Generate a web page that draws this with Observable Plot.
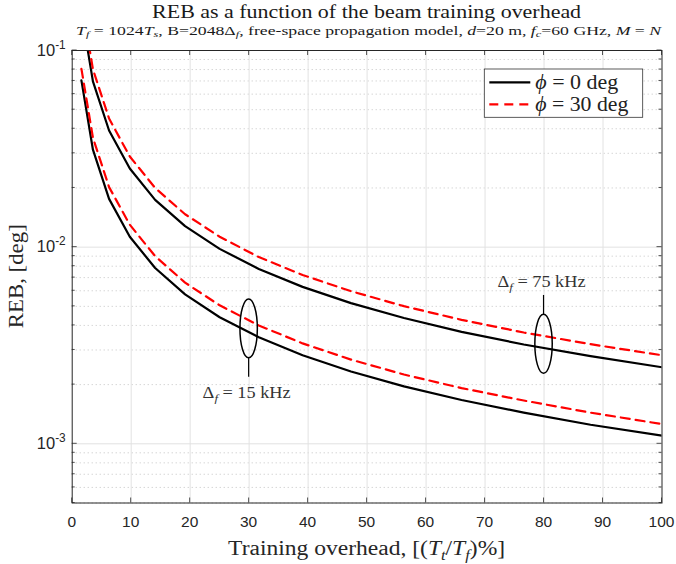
<!DOCTYPE html>
<html><head><meta charset="utf-8">
<script src="https://cdn.jsdelivr.net/npm/d3@7"></script>
<script src="https://cdn.jsdelivr.net/npm/@observablehq/plot@0.6"></script>
<style>html,body{margin:0;padding:0;background:#fff} svg{display:block}</style>
</head><body><div id="chart"></div>
<script>
// Training overhead (Tt/Tf) in %
const overhead = [1.5625, 3.5156, 6.25, 9.7656, 14.0625, 19.1406, 25, 31.6406, 39.0625, 47.2656, 56.25, 66.0156, 76.5625, 87.8906, 100];
// REB [deg]
const reb15Phi0  = [0.0705, 0.0313, 0.0176, 0.0113, 0.00783, 0.00575, 0.0044, 0.00348, 0.00282, 0.00233, 0.00196, 0.00167, 0.00144, 0.00125, 0.0011];
const reb15Phi30 = [0.0807, 0.0360, 0.0202, 0.0130, 0.0090, 0.0066, 0.00506, 0.0040, 0.00324, 0.00268, 0.00225, 0.00192, 0.00166, 0.00144, 0.00126];
const reb75Phi0  = [0.157, 0.0697, 0.0392, 0.0251, 0.0174, 0.0128, 0.0098, 0.00775, 0.00628, 0.00519, 0.00436, 0.00371, 0.0032, 0.00279, 0.00245];
const reb75Phi30 = [0.181, 0.0802, 0.0451, 0.0289, 0.0200, 0.0147, 0.0113, 0.0089, 0.00722, 0.00597, 0.00501, 0.00427, 0.00368, 0.00321, 0.00282];

const legendLabels = ["0", "30"];           // phi values in deg
const xTicks = [0, 10, 20, 30, 40, 50, 60, 70, 80, 90, 100];
const yMajorTicks = [1e-3, 1e-2, 1e-1];
const yMajorExp = ["-3", "-2", "-1"];
const yMinorTicks = [5e-4, 6e-4, 7e-4, 8e-4, 9e-4,
  2e-3, 3e-3, 4e-3, 5e-3, 6e-3, 7e-3, 8e-3, 9e-3,
  2e-2, 3e-2, 4e-2, 5e-2, 6e-2, 7e-2, 8e-2, 9e-2];

// annotation ellipses (data coordinates)
const annotX = [30, 80];
const annotYTop = [0.00542, 0.00453];
const annotYBottom = [0.00272, 0.00227];
const annotLeaderEnd = [0.00218, 0.00568];
const annotLabelY = [0.00170, 0.00622];
const annotLabel = ["15", "75"];

function series(ys, key) { return overhead.map((x, i) => ({x, y: ys[i], key})); }
const solid = [...series(reb15Phi0, "15"), ...series(reb75Phi0, "75")];
const dashed = [...series(reb15Phi30, "15"), ...series(reb75Phi30, "75")];

const SERIF = "Liberation Serif, Times New Roman, serif";
const SANS = "Liberation Sans, Arial, Helvetica, sans-serif";
const AX = "#262626";

function rich(parent, segs, o) {
  const t = parent.append("text").attr("x", o.x).attr("y", o.y)
    .attr("font-size", o.size).attr("font-family", o.family)
    .attr("text-anchor", o.anchor || "start").attr("fill", o.fill || AX);
  if (o.transform) t.attr("transform", o.transform);
  let cur = 0;
  for (const s of segs) {
    const [str, opt = {}] = Array.isArray(s) ? s : [s];
    const shift = opt.sub ? o.size * 0.22 : opt.sup ? -o.size * 0.42 : 0;
    const ts = t.append("tspan").text(str).attr("dy", shift - cur);
    cur = shift;
    if (opt.sub || opt.sup) ts.attr("font-size", o.size * (opt.scale || 0.7));
    if (opt.it) ts.attr("font-style", "italic");
  }
  if (o.textLength) t.attr("textLength", o.textLength).attr("lengthAdjust", o.adjust || "spacingAndGlyphs");
  return t;
}

function decor(index, scales, values, dim) {
  const x = scales.x, y = scales.y;
  const L = dim.marginLeft, R = dim.width - dim.marginRight;
  const T = dim.marginTop, B = dim.height - dim.marginBottom;
  const g = d3.create("svg:g");
  const ticks = g.append("g").attr("stroke", AX).attr("stroke-width", 0.8);
  for (const v of xTicks) {
    const px = x(v);
    ticks.append("line").attr("x1", px).attr("x2", px).attr("y1", B).attr("y2", B - 5);
    ticks.append("line").attr("x1", px).attr("x2", px).attr("y1", T).attr("y2", T + 5);
    g.append("text").attr("x", px).attr("y", B + 24.5).attr("text-anchor", "middle")
      .attr("font-family", SANS).attr("font-size", 15.5).attr("fill", AX).text(String(v));
  }
  yMajorTicks.forEach((v, i) => {
    const py = y(v);
    ticks.append("line").attr("x1", L).attr("x2", L + 5).attr("y1", py).attr("y2", py);
    ticks.append("line").attr("x1", R).attr("x2", R - 5).attr("y1", py).attr("y2", py);
    rich(g, ["10", [yMajorExp[i], {sup: true, scale: 0.72}]],
      {x: L - 6, y: py + 5.5, size: 16.5, family: SANS, anchor: "end"});
  });
  for (const v of yMinorTicks) {
    const py = y(v);
    ticks.append("line").attr("x1", L).attr("x2", L + 3).attr("y1", py).attr("y2", py);
    ticks.append("line").attr("x1", R).attr("x2", R - 3).attr("y1", py).attr("y2", py);
  }
  // title & subtitle
  const cx = (L + R) / 2;
  rich(g, ["REB as a function of the beam training overhead"],
    {x: cx, y: 17.5, size: 19, family: SERIF, anchor: "middle", fill: "#1a1a1a", textLength: 429});
  rich(g, [["T", {it: true}], ["f", {it: true, sub: true}], " = 1024", ["T", {it: true}], ["s", {it: true, sub: true}],
    ", B=2048Δ", ["f", {it: true, sub: true}], ", free-space propagation model, ", ["d", {it: true}], "=20 m, ",
    ["f", {it: true}], ["c", {it: true, sub: true}], "=60 GHz, ", ["M", {it: true}], " = ", ["N", {it: true}]],
    {x: cx + 2, y: 34.5, size: 13, family: SERIF, anchor: "middle", fill: "#1a1a1a", textLength: 585});
  // axis labels
  rich(g, ["Training overhead, [(", ["T", {it: true}], ["t", {it: true, sub: true}], ["/", {}], ["T", {it: true}], ["f", {it: true, sub: true}], ")%]"],
    {x: cx, y: 555, size: 20.5, family: SERIF, anchor: "middle", textLength: 277});
  rich(g, ["REB, [deg]"],
    {x: 0, y: 0, size: 20.5, family: SERIF, anchor: "middle", transform: `translate(23,${(T + B) / 2}) rotate(-90)`, textLength: 104});
  // annotations
  annotX.forEach((v, i) => {
    const px = x(v), yt = y(annotYTop[i]), yb = y(annotYBottom[i]);
    g.append("ellipse").attr("cx", px).attr("cy", (yt + yb) / 2).attr("rx", 8.7).attr("ry", (yb - yt) / 2)
      .attr("fill", "none").attr("stroke", "#000").attr("stroke-width", 1.5);
    const ye = y(annotLeaderEnd[i]);
    const ys = ye > yb ? yb : yt;
    g.append("line").attr("x1", px).attr("x2", px).attr("y1", ys).attr("y2", ye)
      .attr("stroke", "#000").attr("stroke-width", 1.2);
    rich(g, ["Δ", ["f", {it: true, sub: true}], " = " + annotLabel[i] + " kHz"],
      {x: px - 2, y: y(annotLabelY[i]), size: 16, family: SERIF, anchor: "middle", fill: "#333", textLength: 88});
  });
  // legend
  const lx = 484.3, ly = 69, lw = 158.4, lh = 48.3;
  const legendTextLen = [83, 93];
  g.append("rect").attr("x", lx).attr("y", ly).attr("width", lw).attr("height", lh)
    .attr("fill", "#fff").attr("stroke", "#333").attr("stroke-width", 0.8);
  legendLabels.forEach((lab, i) => {
    const yy = ly + 13.3 + i * 22;
    g.append("line").attr("x1", lx + 5).attr("x2", lx + 46).attr("y1", yy).attr("y2", yy)
      .attr("stroke", i ? "#ff0000" : "#000").attr("stroke-width", 2.2)
      .attr("stroke-dasharray", i ? "9,6" : null);
    rich(g, [["ϕ", {it: true}], " = " + lab + " deg"],
      {x: lx + 51, y: yy + 6.5, size: 20, family: SERIF, fill: "#222", textLength: legendTextLen[i]});
  });
  return g.node();
}

const chart = Plot.plot({
  width: 676, height: 564,
  marginLeft: 71.7, marginRight: 14.5, marginTop: 50, marginBottom: 61.5,
  x: {domain: [0, 100], axis: null},
  y: {type: "log", domain: [5e-4, 0.1], axis: null},
  style: {background: "#fff", overflow: "visible"},
  marks: [
    Plot.ruleY(yMinorTicks, {stroke: "#b5b5b5", strokeDasharray: "1,3", strokeWidth: 0.8}),
    Plot.ruleX(xTicks.slice(1, -1), {stroke: "#e2e2e2", strokeWidth: 1}),
    Plot.ruleY(yMajorTicks.slice(0, 2), {stroke: "#e2e2e2", strokeWidth: 1}),
    Plot.line(solid, {x: "x", y: "y", z: "key", stroke: "#000", strokeWidth: 2.2, clip: true}),
    Plot.line(dashed, {x: "x", y: "y", z: "key", stroke: "#ff0000", strokeWidth: 2.2, strokeDasharray: "9,6", clip: true}),
    Plot.frame({stroke: AX, strokeWidth: 1}),
    decor
  ]
});
document.getElementById("chart").append(chart);
</script>
</body></html>
